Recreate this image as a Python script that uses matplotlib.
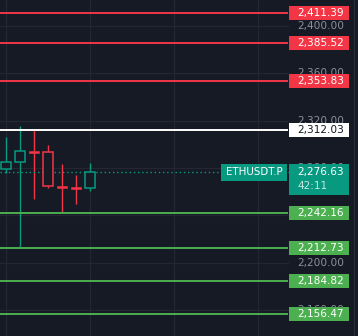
import matplotlib
matplotlib.use("Agg")
import matplotlib.pyplot as plt
from matplotlib.patches import Rectangle
import matplotlib.transforms as mtransforms

# ---------------- data ----------------
opens  = [2279.5, 2284.9, 2294.5, 2293.4, 2264.4, 2263.6, 2263.0]
highs  = [2306.6, 2315.6, 2313.1, 2299.6, 2283.5, 2274.2, 2284.3]
lows   = [2276.1, 2212.73, 2253.7, 2263.5, 2243.2, 2250.0, 2260.9]
closes = [2284.9, 2294.2, 2293.2, 2264.6, 2263.5, 2263.0, 2276.63]

resistance_levels = [2411.39, 2385.52, 2353.83]
pivot_level = 2312.03
support_levels = [2242.16, 2212.73, 2184.82, 2156.47]
current_price = 2276.63
symbol = "ETHUSDT.P"
countdown = "42:11"
tick_prices = [2400, 2360, 2320, 2280, 2240, 2200, 2160]
vgrid_idx = [0, 6, 12, 18]

# ---------------- style ----------------
BG = "#161a25"
GRID = "#242733"
RED = "#f23645"
GREEN_LVL = "#4caf50"
TEAL = "#089981"
TICK = "#8c909a"

W, H = 358, 336
fig = plt.figure(figsize=(W / 100, H / 100), dpi=100, facecolor=BG)
ax = fig.add_axes([0, 0, 1, 1])
ax.set_facecolor(BG)
for s in ax.spines.values():
    s.set_visible(False)
ax.set_xticks([])
ax.set_yticks([])

px_per_candle = 14.0
x0_px = 6.3
ax.set_xlim(-x0_px / px_per_candle, (W - x0_px) / px_per_candle)
px_per_unit = 1.183
ytop = 2411.39 + 12.7 / px_per_unit
ybot = ytop - H / px_per_unit
ax.set_ylim(ybot, ytop)

plot_right = 288 / W
box_l = 289 / W
box_r = 349 / W
text_r = 344 / W
trans = mtransforms.blended_transform_factory(ax.transAxes, ax.transData)
box_h = 14 / px_per_unit

# grid
for p in tick_prices:
    ax.plot([0, plot_right], [p, p], transform=trans, color=GRID, lw=0.9, zorder=1)
for i in vgrid_idx:
    ax.axvline(i, color=GRID, lw=0.9, zorder=1)
ax.plot([354 / W, 354 / W], [0, 1], transform=ax.transAxes, color="#2a2e39", lw=0.8, zorder=1)

# tick labels
for p in tick_prices:
    ax.text(text_r, p, f"{p:,.2f}", transform=trans, ha="right", va="center",
            color=TICK, fontsize=7.6, family="DejaVu Sans", zorder=2)

# candles
bw = 0.74
for i, (o, h, l, c) in enumerate(zip(opens, highs, lows, closes)):
    col = TEAL if c >= o else RED
    top, bot = max(o, c), min(o, c)
    ax.plot([i, i], [bot, l], color=col, lw=1.0, zorder=3, solid_capstyle="butt")
    ax.plot([i, i], [top, h], color=col, lw=1.0, zorder=3, solid_capstyle="butt")
    hgt = top - bot
    if hgt < 1.5:
        ax.add_patch(Rectangle((i - bw / 2, (top + bot) / 2 - 0.8), bw, 1.6,
                               facecolor=col, edgecolor=col, lw=0.4, zorder=4))
    else:
        ax.add_patch(Rectangle((i - bw / 2, bot), bw, hgt, facecolor=BG,
                               edgecolor=col, lw=1.1, zorder=4))

# current price dotted line
ax.plot([0, plot_right], [current_price, current_price], transform=trans,
        color=TEAL, lw=1.0, ls=(0, (1, 2)), zorder=3)


def level(price, color, txtcolor):
    ax.plot([0, plot_right], [price, price], transform=trans, color=color,
            lw=1.4, zorder=5, solid_capstyle="butt")
    ax.add_patch(Rectangle((box_l, price - box_h / 2), box_r - box_l, box_h,
                           transform=trans, facecolor=color, edgecolor="none", zorder=6))
    ax.text(text_r, price, f"{price:,.2f}", transform=trans, ha="right", va="center",
            color=txtcolor, fontsize=7.6, family="DejaVu Sans", zorder=7)


for p in resistance_levels:
    level(p, RED, "white")
level(pivot_level, "white", "#131722")
for p in support_levels:
    level(p, GREEN_LVL, "white")

# current price boxes
pb_top = current_price + 8.2 / px_per_unit
pb_bot = pb_top - 31 / px_per_unit
ax.add_patch(Rectangle((box_l, pb_bot), box_r - box_l, pb_top - pb_bot, transform=trans,
                       facecolor=TEAL, edgecolor="none", zorder=6))
ax.text(text_r, current_price, f"{current_price:,.2f}", transform=trans, ha="right",
        va="center", color="white", fontsize=7.6, family="DejaVu Sans", zorder=7)
ax.text(297 / W, current_price - 13.5 / px_per_unit, countdown, transform=trans, ha="left",
        va="center", color="#c2e8e1", fontsize=7.6, family="DejaVu Sans", zorder=7)

sb_l = 220.7 / W
sb_r = 287.3 / W
sb_h = 16.7 / px_per_unit
ax.add_patch(Rectangle((sb_l, pb_top - sb_h), sb_r - sb_l, sb_h, transform=trans,
                       facecolor=TEAL, edgecolor="none", zorder=6))
ax.text((sb_l + sb_r) / 2, pb_top - sb_h / 2, symbol, transform=trans, ha="center",
        va="center", color="white", fontsize=7.4, family="DejaVu Sans", zorder=7)

fig.savefig("out.png", dpi=100, facecolor=BG)
